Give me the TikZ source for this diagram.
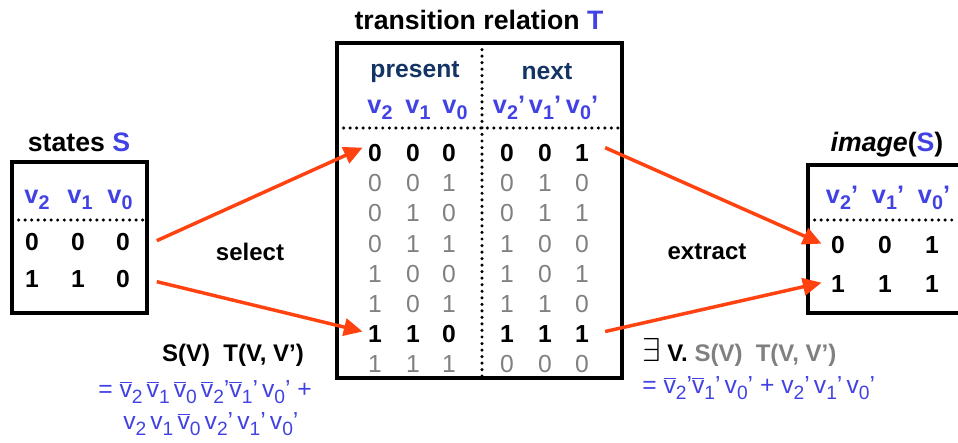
\documentclass[tikz,border=0pt]{standalone}
\usepackage{fontspec}
\usepackage{graphicx}
\setmainfont{Liberation Sans}
\usetikzlibrary{arrows.meta,positioning}
\definecolor{varblue}{RGB}{66,66,228}
\definecolor{headnavy}{RGB}{20,52,100}
\definecolor{rowgray}{RGB}{128,128,128}
\definecolor{arrowred}{RGB}{255,66,16}

\newcommand{\lowsub}[1]{\raisebox{-0.45ex}{\scalebox{0.78}{#1}}}
\newcommand{\vv}[1]{v\lowsub{#1}}
\newcommand{\nv}[1]{$\overline{\mbox{v}}$\lowsub{#1}}

\begin{document}
\begin{tikzpicture}[x=0.75pt, y=-0.75pt,
      frame/.style={line width=2.6pt},
      dots/.style={line width=2.6pt, line cap=round, dash pattern=on 0pt off 4.9pt},
      title/.style={font=\fontsize{20}{24}\selectfont\bfseries},
      colhead/.style={font=\fontsize{18.5}{22}\selectfont\bfseries, text=headnavy},
      varhead/.style={font=\fontsize{19}{22}\selectfont\bfseries, text=varblue, inner sep=0pt},
      bit/.style={font=\fontsize{18.5}{20}\selectfont\bfseries, inner sep=1pt},
      gbit/.style={font=\fontsize{18.5}{20}\selectfont, text=rowgray, inner sep=1pt},
      label/.style={font=\fontsize{18}{22}\selectfont\bfseries},
      formula/.style={font=\fontsize{18.5}{22}\selectfont, text=varblue, anchor=west, inner sep=0pt},
      arrow/.style={-{Triangle[length=14pt, width=13pt]}, line width=2.6pt, arrowred}
    ]
    \clip (0,0) rectangle (958,443);

    % states S
    \node[title] (stitle) at (79,142) {states {\color{varblue}S}};
    \draw[frame] (12,162) rectangle (147,313);
    \node[varhead] (sh2) at (37,200) {\vv{2}};
    \node[varhead] (sh1) at (80,200) {\vv{1}};
    \node[varhead] (sh0) at (120,200) {\vv{0}};
    \draw[dots] (12,220) -- (147,220);
    \node[bit] (s11) at (32,242) {0};
    \node[bit] (s12) at (78,242) {0};
    \node[bit] (s13) at (123,242) {0};
    \node[bit] (s21) at (32,279) {1};
    \node[bit] (s22) at (78,279) {1};
    \node[bit] (s23) at (123,279) {0};

    % transition relation T
    \node[title] (ttitle) at (479,20) {transition relation {\color{varblue}T}};
    \draw[frame] (337,43) rectangle (622,378);
    \draw[dots] (482,43) -- (482,378);
    \node[colhead] (present) at (415,72) {present};
    \node[colhead] (next) at (547,72) {next};
    \node[varhead] (th2) at (380,110) {\vv{2}};
    \node[varhead] (th1) at (418,110) {\vv{1}};
    \node[varhead] (th0) at (455,110) {\vv{0}};
    \node[varhead] (th2p) at (509,108) {\vv{2}'};
    \node[varhead] (th1p) at (545,108) {\vv{1}'};
    \node[varhead] (th0p) at (582,108) {\vv{0}'};
    \draw[dots] (337,128) -- (622,128);
    \foreach \r/\a/\b/\c/\d/\e/\f/\st in {1/0/0/0/0/0/1/bit, 2/0/0/1/0/1/0/gbit,
        3/0/1/0/0/1/1/gbit, 4/0/1/1/1/0/0/gbit, 5/1/0/0/1/0/1/gbit,
        6/1/0/1/1/1/0/gbit, 7/1/1/0/1/1/1/bit, 8/1/1/1/0/0/0/gbit} {
      \pgfmathsetmacro\yy{153+30.2*(\r-1)}
      \node[\st] (t\r1) at (375,\yy) {\a};
      \node[\st] (t\r2) at (413,\yy) {\b};
      \node[\st] (t\r3) at (449,\yy) {\c};
      \node[\st] (t\r4) at (507,\yy) {\d};
      \node[\st] (t\r5) at (545,\yy) {\e};
      \node[\st] (t\r6) at (582,\yy) {\f};
    }

    % image(S)
    \node[title] (ititle) at (887,145) {\textit{image}({\color{varblue}S})};
    \draw[frame] (964,165) -- (808,165) -- (808,313) -- (964,313);
    \node[varhead] (ih2) at (842,198) {\vv{2}'};
    \node[varhead] (ih1) at (888,198) {\vv{1}'};
    \node[varhead] (ih0) at (934,198) {\vv{0}'};
    \draw[dots] (808,220) -- (958,220);
    \node[bit] (i11) at (838,245) {0};
    \node[bit] (i12) at (885,245) {0};
    \node[bit] (i13) at (932,245) {1};
    \node[bit] (i21) at (838,284) {1};
    \node[bit] (i22) at (885,284) {1};
    \node[bit] (i23) at (932,284) {1};

    % select / extract
    \node[label] (select) at (250,252) {select};
    \node[label] (extract) at (707,252) {extract};
    \draw[arrow] ([xshift=19pt,yshift=1pt]s13.east) -- ([xshift=-3pt,yshift=4pt]t11.west);
    \draw[arrow] ([xshift=19pt,yshift=-2pt]s23.east) -- ([xshift=-3pt,yshift=2pt]t71.west);
    \draw[arrow] ([xshift=11pt,yshift=4pt]t16.east) -- ([xshift=-6pt,yshift=1pt]i11.west);
    \draw[arrow] ([xshift=11pt,yshift=2pt]t76.east) -- ([xshift=-6pt,yshift=1pt]i21.west);

    % formulas
    \node[label] (sform) at (233,355) {S(V)\ \ T(V, V')};
    \node[formula] (sline1) at (98,392) {= \nv{2}\,\nv{1}\,\nv{0}\,\nv{2}'\nv{1}'\,\vv{0}' +};
    \node[formula] (sline2) at (123,424) {\vv{2}\,\vv{1}\,\nv{0}\,\vv{2}'\,\vv{1}'\,\vv{0}'};
    \node[label, anchor=west, inner sep=0pt] (iform) at (642,352)
      {{\fontsize{25}{25}\selectfont\mdseries$\exists$}\ V. {\color{rowgray}S(V)\ \ T(V, V')}};
    \node[formula] (iline) at (642,388) {= \nv{2}'\nv{1}'\,\vv{0}' + \vv{2}'\,\vv{1}'\,\vv{0}'};
  \end{tikzpicture}
\end{document}
